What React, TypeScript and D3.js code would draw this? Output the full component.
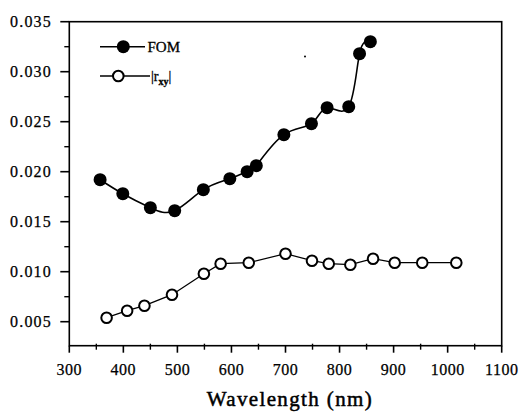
import React, { useRef, useEffect } from 'react';
import * as d3 from 'd3';

// FOM (filled circles)
const fomWavelength = [357, 399, 450, 495, 548, 597, 629, 646, 697, 748, 777, 817, 837, 857];
const fomValue = [0.0192, 0.0178, 0.0164, 0.0161, 0.0182, 0.0193, 0.0200, 0.0206, 0.0237, 0.0248, 0.0264, 0.0265, 0.0318, 0.0330];

// |r_xy| (open circles)
const rxyWavelength = [369, 407, 439, 490, 549, 580, 632, 700, 749, 780, 820, 862, 902, 953, 1016];
const rxyValue = [0.0054, 0.0061, 0.0066, 0.0077, 0.0098, 0.0108, 0.0109, 0.0118, 0.0111, 0.0108, 0.0107, 0.0113, 0.0109, 0.0109, 0.0109];

const xTicks = [300, 400, 500, 600, 700, 800, 900, 1000, 1100];
const yTicks = [0.005, 0.010, 0.015, 0.020, 0.025, 0.030, 0.035];

const FONT = 'Liberation Serif, DejaVu Serif, serif';

const App = () => {
  const chartRef = useRef<SVGSVGElement | null>(null);

  useEffect(() => {
    if (!chartRef.current) return;
    const svg = d3.select(chartRef.current);
    svg.selectAll('*').remove();

    // scales
    const x = d3.scaleLinear().domain([300, 1100]).range([69.3, 501.7]);
    const y = d3.scaleLinear().domain([0.0026, 0.035]).range([345.7, 21.7]);

    const g = svg.append('g').style('font-family', FONT);

    // frame
    g.append('rect')
      .attr('x', x(300))
      .attr('y', y(0.035))
      .attr('width', x(1100) - x(300))
      .attr('height', y(0.0026) - y(0.035))
      .attr('fill', 'none')
      .attr('stroke', '#000')
      .attr('stroke-width', 1.6);

    // x axis ticks
    const xMinor = d3.range(350, 1100, 100);
    g.selectAll('.xmaj')
      .data(xTicks)
      .enter()
      .append('line')
      .attr('x1', d => x(d))
      .attr('x2', d => x(d))
      .attr('y1', y(0.0026))
      .attr('y2', y(0.0026) + 7)
      .attr('stroke', '#000')
      .attr('stroke-width', 1.6);
    g.selectAll('.xmin')
      .data(xMinor)
      .enter()
      .append('line')
      .attr('x1', d => x(d))
      .attr('x2', d => x(d))
      .attr('y1', y(0.0026) - 2)
      .attr('y2', y(0.0026) + 4)
      .attr('stroke', '#000')
      .attr('stroke-width', 1.4);
    g.selectAll('.xlab')
      .data(xTicks)
      .enter()
      .append('text')
      .attr('x', d => x(d))
      .attr('y', 375)
      .attr('text-anchor', 'middle')
      .style('font-family', FONT)
      .attr('font-size', 16)
      .attr('letter-spacing', 0.5)
      .attr('stroke', '#000')
      .attr('stroke-width', 0.25)
      .text(d => d);

    // y axis ticks
    const yMinor = d3.range(0.0075, 0.035, 0.005);
    g.selectAll('.ymaj')
      .data(yTicks)
      .enter()
      .append('line')
      .attr('x1', x(300) - 9)
      .attr('x2', x(300))
      .attr('y1', d => y(d))
      .attr('y2', d => y(d))
      .attr('stroke', '#000')
      .attr('stroke-width', 1.6);
    g.selectAll('.ymin')
      .data(yMinor)
      .enter()
      .append('line')
      .attr('x1', x(300) - 5)
      .attr('x2', x(300))
      .attr('y1', d => y(d))
      .attr('y2', d => y(d))
      .attr('stroke', '#000')
      .attr('stroke-width', 1.4);
    g.selectAll('.ylab')
      .data(yTicks)
      .enter()
      .append('text')
      .attr('x', 52)
      .attr('y', d => y(d) + 5.5)
      .attr('text-anchor', 'end')
      .style('font-family', FONT)
      .attr('font-size', 16)
      .attr('letter-spacing', 1.2)
      .attr('stroke', '#000')
      .attr('stroke-width', 0.25)
      .text(d => d3.format('.3f')(d));

    // x axis title
    g.append('text')
      .attr('x', 206.7)
      .attr('y', 406)
      .style('font-family', FONT)
      .attr('font-size', 21)
      .attr('stroke', '#000')
      .attr('stroke-width', 0.5)
      .attr('textLength', 165)
      .attr('lengthAdjust', 'spacing')
      .text('Wavelength (nm)');

    // |r_xy| series
    const rxy = rxyWavelength.map((w, i) => [w, rxyValue[i]] as [number, number]);
    g.append('path')
      .datum(rxy)
      .attr('d', d3.line().x(d => x(d[0])).y(d => y(d[1])))
      .attr('fill', 'none')
      .attr('stroke', '#000')
      .attr('stroke-width', 1.3);
    g.selectAll('.rxy')
      .data(rxy)
      .enter()
      .append('circle')
      .attr('cx', d => x(d[0]))
      .attr('cy', d => y(d[1]))
      .attr('r', 5.3)
      .attr('fill', '#fff')
      .attr('stroke', '#000')
      .attr('stroke-width', 2);

    // FOM series
    const fom = fomWavelength.map((w, i) => [w, fomValue[i]] as [number, number]);
    g.append('path')
      .datum(fom)
      .attr('d', d3.line().curve(d3.curveNatural).x(d => x(d[0])).y(d => y(d[1])))
      .attr('fill', 'none')
      .attr('stroke', '#000')
      .attr('stroke-width', 1.6);
    g.selectAll('.fom')
      .data(fom)
      .enter()
      .append('circle')
      .attr('cx', d => x(d[0]))
      .attr('cy', d => y(d[1]))
      .attr('r', 6.5)
      .attr('fill', '#000');

    // legend
    const leg = g.append('g');
    leg.append('line')
      .attr('x1', 100).attr('x2', 145).attr('y1', 46.7).attr('y2', 46.7)
      .attr('stroke', '#000').attr('stroke-width', 1.6);
    leg.append('circle').attr('cx', 123.3).attr('cy', 46.7).attr('r', 6.5).attr('fill', '#000');
    leg.append('text')
      .attr('x', 147.5).attr('y', 51.7)
      .style('font-family', FONT).attr('font-size', 15)
      .attr('stroke', '#000').attr('stroke-width', 0.3)
      .text('FOM');

    leg.append('line')
      .attr('x1', 100).attr('x2', 150).attr('y1', 76).attr('y2', 76)
      .attr('stroke', '#000').attr('stroke-width', 1.3);
    leg.append('circle').attr('cx', 118.3).attr('cy', 76).attr('r', 5.3)
      .attr('fill', '#fff').attr('stroke', '#000').attr('stroke-width', 2);
    const t = leg.append('text')
      .attr('x', 151).attr('y', 80.5)
      .style('font-family', FONT).attr('font-size', 14)
      .attr('stroke', '#000').attr('stroke-width', 0.3);
    t.append('tspan').text('|r');
    t.append('tspan').attr('font-size', 10).attr('font-weight', 'bold').attr('dy', 4).text('xy');
    t.append('tspan').attr('dy', -4).text('|');

    // small speck
    g.append('circle').attr('cx', 305).attr('cy', 56.5).attr('r', 1).attr('fill', '#000');
  }, []);

  return (
    <svg
      ref={chartRef}
      width={522}
      height={412}
      style={{ position: 'absolute', left: 0, top: 0, background: '#fff' }}
    />
  );
};

export default App;
